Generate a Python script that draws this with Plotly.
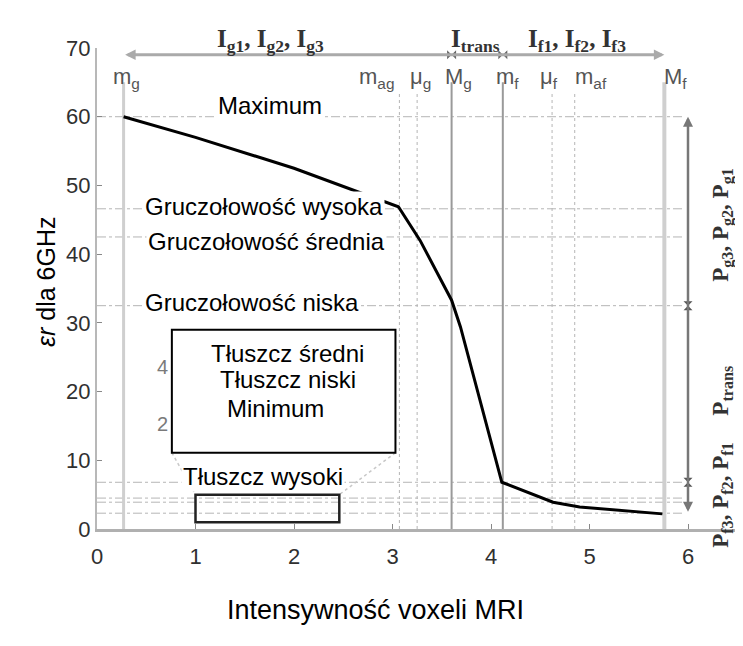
import plotly.graph_objects as go

# ---- data ----
curve_x = [0.27, 1.0, 2.0, 3.06, 3.28, 3.6, 3.69, 3.89, 4.11, 4.63, 4.9, 5.74]
curve_y = [60.0, 57.0, 52.5, 46.9, 42.0, 33.3, 29.4, 18.8, 6.8, 3.9, 3.2, 2.2]

solid_vlines_x = [0.27, 3.6, 4.12, 5.76]          # m_g, M_g, m_f, M_f
solid_vlines_color = ["#cfcfcf", "#9a9a9a", "#9a9a9a", "#cfcfcf"]
solid_vlines_width = [3, 2, 2, 4]
dotted_vlines_x = [3.07, 3.25, 4.62, 4.85]         # m_ag, mu_g, mu_f, m_af
hlines_y = [60.0, 46.6, 42.5, 32.5, 6.8, 4.5, 3.9, 2.3]

marker_labels = ["m<sub>g</sub>", "m<sub>ag</sub>", "μ<sub>g</sub>", "M<sub>g</sub>",
                 "m<sub>f</sub>", "μ<sub>f</sub>", "m<sub>af</sub>", "M<sub>f</sub>"]
marker_label_x = [0.14, 2.64, 3.16, 3.51, 4.03, 4.48, 4.83, 5.74]

top_labels = ["I<sub>g1</sub>, I<sub>g2</sub>, I<sub>g3</sub>", "I<sub>trans</sub>",
              "I<sub>f1</sub>, I<sub>f2</sub>, I<sub>f3</sub>"]
top_label_x = [1.76, 3.84, 4.87]

right_labels = ["P<sub>g3</sub>, P<sub>g2</sub>, P<sub>g1</sub>", "P<sub>trans</sub>",
                "P<sub>f3</sub>, P<sub>f2</sub>, P<sub>f1</sub>"]
right_label_y = [44.2, 20.2, 4.9]

tissue_labels = ["Maximum", "Gruczołowość wysoka", "Gruczołowość średnia", "Gruczołowość niska",
                 "Tłuszcz średni", "Tłuszcz niski", "Minimum", "Tłuszcz wysoki"]
tissue_x = [1.76, 0.47, 0.50, 0.47, 1.93, 1.94, 1.81, 1.69]
tissue_y = [61.7, 46.9, 41.9, 33.0, 25.6, 21.7, 17.5, 7.6]
tissue_anchor = ["center", "left", "left", "left", "center", "center", "center", "center"]

inset_box = dict(x0=0.76, x1=3.03, y0=11.1, y1=29.0)
zoom_box = dict(x0=1.0, x1=2.46, y0=1.0, y1=5.0)
inset_ticks = ["4", "2"]
inset_tick_y = [23.6, 15.3]

arrow_span_x = [0.27, 5.76]
arrow_y = 69.0
arrow_marks_x = [3.6, 4.12]
p_arrow_x = 6.0
p_arrow_span = [60.0, 2.3]
p_marks_y = [32.5, 6.8]

FONT = "Liberation Sans, Arial, sans-serif"
SERIF = "Liberation Serif, Times New Roman, serif"

# the page body adds an 8px offset; margins compensate so the plot area sits where the reference has it
PLOT_W, PLOT_H = 654, 481

fig = go.Figure()

shapes = []
for y in hlines_y:
    shapes.append(dict(type="line", xref="x", yref="y", x0=0, x1=5.95, y0=y, y1=y,
                       line=dict(color="#b5b5b5", width=1, dash="dashdot"), layer="below"))
for x in dotted_vlines_x:
    shapes.append(dict(type="line", xref="x", yref="y", x0=x, x1=x, y0=0, y1=63.5,
                       line=dict(color="#b5b5b5", width=1, dash="dot"), layer="below"))
for x, c, w in zip(solid_vlines_x, solid_vlines_color, solid_vlines_width):
    shapes.append(dict(type="line", xref="x", yref="y", x0=x, x1=x, y0=0, y1=65,
                       line=dict(color=c, width=w), layer="below"))
# faint zoom connectors from the inset box to the zoomed region
shapes.append(dict(type="line", xref="x", yref="y", x0=inset_box["x0"], y0=inset_box["y0"],
                   x1=zoom_box["x0"], y1=zoom_box["y1"],
                   line=dict(color="#c8c8c8", width=1.5, dash="dot"), layer="below"))
shapes.append(dict(type="line", xref="x", yref="y", x0=inset_box["x1"], y0=inset_box["y0"],
                   x1=zoom_box["x1"], y1=zoom_box["y1"],
                   line=dict(color="#c8c8c8", width=1.5, dash="dot"), layer="below"))
shapes.append(dict(type="rect", xref="x", yref="y", **inset_box,
                   line=dict(color="black", width=2), fillcolor="white", layer="below"))
shapes.append(dict(type="rect", xref="x", yref="y", **zoom_box,
                   line=dict(color="#222", width=2.5), fillcolor="rgba(0,0,0,0)", layer="above"))
fig.update_layout(shapes=shapes)

fig.add_trace(go.Scatter(x=curve_x, y=curve_y, mode="lines",
                         line=dict(color="black", width=3), hoverinfo="skip", showlegend=False))
fig.add_trace(go.Scatter(x=arrow_marks_x, y=[arrow_y] * len(arrow_marks_x), mode="markers",
                         marker=dict(symbol="bowtie", size=9, color="#666"), cliponaxis=False,
                         showlegend=False, hoverinfo="skip"))
fig.add_trace(go.Scatter(x=[p_arrow_x] * len(p_marks_y), y=p_marks_y, mode="markers",
                         marker=dict(symbol="hourglass", size=9, color="#555"), cliponaxis=False,
                         showlegend=False, hoverinfo="skip"))

ann = []
ann.append(dict(x=arrow_span_x[1], y=arrow_y, ax=arrow_span_x[0], ay=arrow_y, xref="x", yref="y",
                axref="x", ayref="y", text="", showarrow=True, arrowside="end+start",
                arrowhead=2, arrowsize=0.7, arrowwidth=3, arrowcolor="#aaaaaa"))
ann.append(dict(x=p_arrow_x, y=p_arrow_span[0], ax=p_arrow_x, ay=p_arrow_span[1], xref="x", yref="y",
                axref="x", ayref="y", text="", showarrow=True, arrowside="end+start",
                arrowhead=2, arrowsize=0.8, arrowwidth=2.5, arrowcolor="#777777"))
for t, x in zip(marker_labels, marker_label_x):
    ann.append(dict(x=x, y=65.6, xref="x", yref="y", text=t, showarrow=False, xanchor="left",
                    font=dict(family=FONT, size=22, color="#555")))
for t, x in zip(top_labels, top_label_x):
    ann.append(dict(x=x, y=1 + 8 / PLOT_H, xref="x", yref="paper", text="<b>" + t + "</b>",
                    showarrow=False, yanchor="middle",
                    font=dict(family=SERIF, size=25, color="#333")))
for t, y in zip(right_labels, right_label_y):
    ann.append(dict(x=6.35, y=y, xref="x", yref="y", text="<b>" + t + "</b>", showarrow=False,
                    textangle=-90, font=dict(family=SERIF, size=23, color="#333")))
for t, y in zip(inset_ticks, inset_tick_y):
    ann.append(dict(x=0.66, y=y, xref="x", yref="y", text=t, showarrow=False,
                    font=dict(family=FONT, size=20, color="#7a7a7a")))
for t, x, y, a in zip(tissue_labels, tissue_x, tissue_y, tissue_anchor):
    ann.append(dict(x=x, y=y, xref="x", yref="y", text=t, showarrow=False, xanchor=a,
                    bgcolor="white", font=dict(family=FONT, size=24, color="black")))
ann.append(dict(x=-67 / PLOT_W, y=(529 - 282) / PLOT_H, xref="paper", yref="paper",
                text="<i>εr</i> dla 6GHz", showarrow=False, textangle=-90,
                font=dict(family=FONT, size=25, color="black")))
ann.append(dict(x=(375 - 97) / PLOT_W, y=-(627 - 529) / PLOT_H, xref="paper", yref="paper",
                text="Intensywność voxeli MRI", showarrow=False,
                font=dict(family=FONT, size=27, color="black")))
fig.update_layout(annotations=ann)

fig.update_layout(
    width=743, height=646,
    margin=dict(l=89, r=0, t=40, b=125, autoexpand=False),
    plot_bgcolor="white", paper_bgcolor="white",
    xaxis=dict(range=[0, PLOT_W / 98.5], tickvals=[0, 1, 2, 3, 4, 5, 6], showgrid=False, zeroline=False,
               showline=True, linecolor="#b0b0b0", linewidth=3, ticks="inside", ticklen=5,
               tickcolor="#888", ticklabelstandoff=6,
               tickfont=dict(family=FONT, size=22, color="#303030")),
    yaxis=dict(range=[0, 70], tickvals=[0, 10, 20, 30, 40, 50, 60, 70], showgrid=False, zeroline=False,
               showline=True, linecolor="#b8b8b8", linewidth=2, ticks="inside", ticklen=5,
               tickcolor="#888", tickfont=dict(family=FONT, size=22, color="#303030")),
)

fig.write_html("out.html")
